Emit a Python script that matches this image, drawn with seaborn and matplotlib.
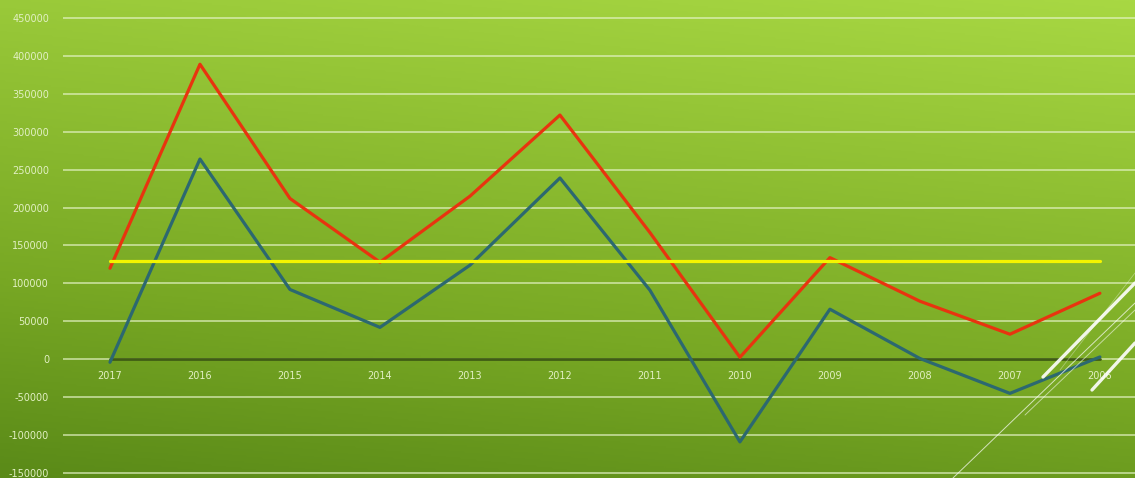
import numpy as np
import pandas as pd
import matplotlib
matplotlib.use("Agg")
import matplotlib.pyplot as plt
import seaborn as sns
from matplotlib.colors import LinearSegmentedColormap
from matplotlib.lines import Line2D

# =====================================================
# DATA
# =====================================================
years = ["2017", "2016", "2015", "2014", "2013", "2012",
         "2011", "2010", "2009", "2008", "2007", "2006"]
red_values = [120000, 389000, 212000, 128000, 215000, 322000,
              167000, 2600, 134000, 76500, 33000, 87000]
blue_values = [-4000, 264000, 92000, 42000, 124000, 239000,
               91000, -109000, 66000, 1000, -45000, 3000]
yellow_values = [129000] * len(years)
y_ticks = [-150000, -100000, -50000, 0, 50000, 100000, 150000,
           200000, 250000, 300000, 350000, 400000, 450000]

df = pd.DataFrame({
    "Year": years * 3,
    "Value": red_values + blue_values + yellow_values,
    "Series": ["red"] * 12 + ["blue"] * 12 + ["yellow"] * 12,
})
df["x"] = list(range(len(years))) * 3

palette = {"red": "#e8340f", "blue": "#2c6870", "yellow": "#f4f400"}

# =====================================================
# FIGURE + GRADIENT BACKGROUND
# =====================================================
sns.set_style("white")
fig = plt.figure(figsize=(11.35, 4.78), dpi=100)

bg = fig.add_axes([0, 0, 1, 1], zorder=0)
gx, gy = np.meshgrid(np.linspace(0, 1, 300), np.linspace(0, 1, 300))
grad = 0.8 * gy + 0.2 * gx
cmap = LinearSegmentedColormap.from_list(
    "greens", ["#5a8a18", "#78a824", "#90c033", "#a8d843"])
bg.imshow(grad, cmap=cmap, origin="lower", extent=[0, 1, 0, 1],
          aspect="auto")
bg.axis("off")

# decorative diagonal lines (bottom right)
deco = [
    ((1043, 377), (1135, 283), 2.4, 0.9),
    ((1092, 390), (1135, 343), 2.4, 0.9),
    ((953, 478), (1135, 303), 0.7, 0.7),
    ((1025, 415), (1135, 310), 0.7, 0.55),
    ((1060, 370), (1135, 273), 0.6, 0.35),
]
for (x0, y0), (x1, y1), lw, a in deco:
    fig.add_artist(Line2D([x0 / 1135, x1 / 1135],
                          [1 - y0 / 478, 1 - y1 / 478],
                          color="white", lw=lw, alpha=a, zorder=5))

# =====================================================
# MAIN AXES
# =====================================================
ax = fig.add_axes([63 / 1135, 0, 1 - 63 / 1135, 1], zorder=2)
ax.patch.set_alpha(0)

ax.set_xlim(-0.522, 11.39)
ax.set_ylim(-156600, 473700)

for yt in y_ticks:
    ax.axhline(yt, color="#e6f4c8", lw=1.1, alpha=0.8, zorder=1)

sns.lineplot(data=df, x="x", y="Value", hue="Series", palette=palette,
             lw=2.3, ax=ax, legend=False, zorder=3)

# dark zero line
ax.plot([0, len(years) - 1], [0, 0], color="#3f5c14", lw=2.0, zorder=2)

for s in ["top", "right", "left", "bottom"]:
    ax.spines[s].set_visible(False)

ax.set_yticks(y_ticks)
ax.set_yticklabels([str(v) for v in y_ticks])
ax.set_xticks([])
ax.tick_params(axis="y", length=0, pad=10, labelsize=7,
               labelcolor="#e2f0c4")
ax.set_xlabel("")
ax.set_ylabel("")

for i, yr in enumerate(years):
    ax.text(i, -22000, yr, ha="center", va="center", fontsize=7,
            color="#e2f0c4", zorder=4)

plt.savefig("out.png", dpi=100)
plt.close()
